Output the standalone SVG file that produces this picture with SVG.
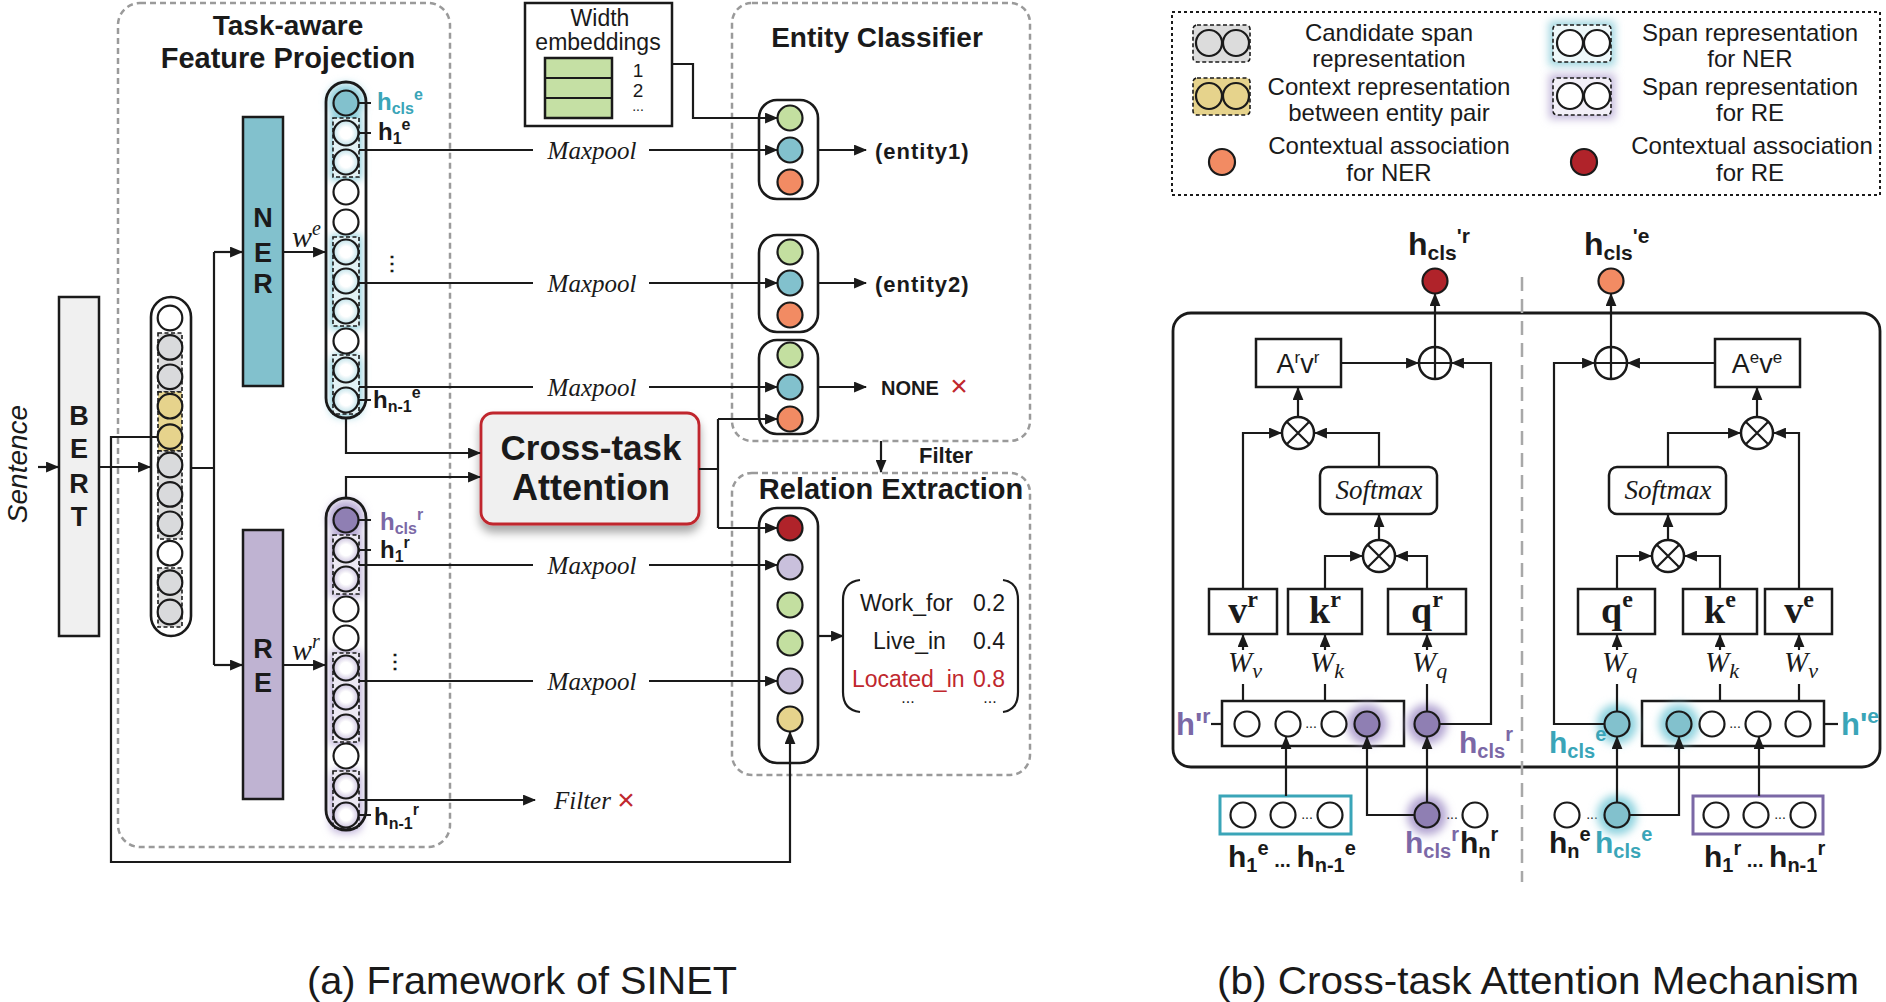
<svg xmlns="http://www.w3.org/2000/svg" width="1886" height="1002" viewBox="0 0 1886 1002">
<defs>
<marker id="ah" viewBox="0 0 12 10" refX="11" refY="5" markerWidth="13" markerHeight="11" orient="auto" markerUnits="userSpaceOnUse"><path d="M0,0 L12,5 L0,10 z" fill="#1a1a1a"/></marker>
<filter id="blur" x="-60%" y="-60%" width="220%" height="220%"><feGaussianBlur stdDeviation="4"/></filter>
<filter id="shadow" x="-20%" y="-20%" width="140%" height="170%"><feDropShadow dx="0" dy="7" stdDeviation="5" flood-color="#000" flood-opacity="0.35"/></filter>
<radialGradient id="gP" cx="50%" cy="50%" r="50%"><stop offset="45%" stop-color="#ffffff"/><stop offset="100%" stop-color="#cdc4df"/></radialGradient>
<radialGradient id="gT" cx="50%" cy="50%" r="50%"><stop offset="45%" stop-color="#ffffff"/><stop offset="100%" stop-color="#c2e3ea"/></radialGradient>
</defs>
<style>
.ln{fill:none;stroke:#1a1a1a;stroke-width:2.2}
.ar{marker-end:url(#ah)}
.dbox{fill:none;stroke:#9a9a9a;stroke-width:2.5;stroke-dasharray:6 4}
.cap{fill:#fff;stroke:#1a1a1a;stroke-width:2.6}
.capo{fill:none;stroke:#1a1a1a;stroke-width:2.8}
.c{stroke:#1a1a1a;stroke-width:2.2}
.dash{stroke:#1a1a1a;stroke-width:1.6;stroke-dasharray:4 2.5}
.box{fill:#fff;stroke:#1a1a1a;stroke-width:2.5}
.t{font-family:"Liberation Sans",Arial,sans-serif;fill:#1a1a1a}
.b{font-weight:bold}
.s{font-family:"Liberation Serif","Times New Roman",serif;fill:#1a1a1a}
.i{font-style:italic}
.w{fill:#fff}
.gr{fill:#d9dadc}
.ye{fill:#e6d38c}
.tl{fill:#82c1cd}
.pu{fill:#8f7fb3}
.gn{fill:#c3dfa0}
.or{fill:#f28b63}
.rd{fill:#b0232a}
.lv{fill:#c9c0dc}
.pt{fill:#7b68a6}
.tt{fill:#3aa5b8}
.red{fill:#c0272d}
</style>

<!-- ===== Panel (a) ===== -->
<g id="task-aware-box">
<rect class="dbox" x="118" y="3" width="332" height="844" rx="22"/>
<text class="t b" x="288" y="35" font-size="28" text-anchor="middle">Task-aware</text>
<text class="t b" x="288" y="68" font-size="29" text-anchor="middle">Feature Projection</text>
</g>

<g id="sentence">
<text class="t i" transform="translate(27,464) rotate(-90)" font-size="28" text-anchor="middle">Sentence</text>
</g>

<g id="bert">
<rect x="59" y="297" width="40" height="339" fill="#f0f0f0" stroke="#1a1a1a" stroke-width="2.5"/>
<text class="t b" x="79" y="425" font-size="27" text-anchor="middle">B</text>
<text class="t b" x="79" y="458" font-size="27" text-anchor="middle">E</text>
<text class="t b" x="79" y="493" font-size="27" text-anchor="middle">R</text>
<text class="t b" x="79" y="526" font-size="27" text-anchor="middle">T</text>
</g>

<g id="bert-output">
<rect class="cap" x="151" y="297" width="40" height="339" rx="20"/>
<rect class="dash" x="158" y="333" width="24" height="59" fill="#dcdcdc"/>
<rect class="dash" x="158" y="392" width="24" height="59" fill="#e8d690"/>
<rect class="dash" x="158" y="451" width="24" height="88" fill="#dcdcdc"/>
<rect class="dash" x="158" y="568" width="24" height="59" fill="#dcdcdc"/>
<circle class="c w" cx="170" cy="318" r="12.3"/>
<circle class="c gr" cx="170" cy="347.4" r="12.3"/>
<circle class="c gr" cx="170" cy="376.8" r="12.3"/>
<circle class="c ye" cx="170" cy="406.2" r="12.3"/>
<circle class="c ye" cx="170" cy="436.6" r="12.3"/>
<circle class="c gr" cx="170" cy="465" r="12.3"/>
<circle class="c gr" cx="170" cy="494.4" r="12.3"/>
<circle class="c gr" cx="170" cy="523.8" r="12.3"/>
<circle class="c w" cx="170" cy="553.2" r="12.3"/>
<circle class="c gr" cx="170" cy="582.6" r="12.3"/>
<circle class="c gr" cx="170" cy="612" r="12.3"/>
</g>

<g id="ner">
<rect x="243" y="117" width="40" height="269" fill="#82c1cd" stroke="#1a1a1a" stroke-width="2.5"/>
<text class="t b" x="263" y="227" font-size="27" text-anchor="middle">N</text>
<text class="t b" x="263" y="262" font-size="27" text-anchor="middle">E</text>
<text class="t b" x="263" y="293" font-size="27" text-anchor="middle">R</text>
</g>

<g id="re">
<rect x="243" y="530" width="40" height="269" fill="#bfb3d2" stroke="#1a1a1a" stroke-width="2.5"/>
<text class="t b" x="263" y="658" font-size="27" text-anchor="middle">R</text>
<text class="t b" x="263" y="692" font-size="27" text-anchor="middle">E</text>
</g>

<g id="ner-column">
<rect x="326" y="82" width="40" height="336" rx="20" fill="#fff"/>
<g fill="#8fcfdb" filter="url(#blur)">
<rect x="328" y="84" width="36" height="36" rx="16"/>
<rect x="330" y="116" width="32" height="64"/>
<rect x="330" y="235" width="32" height="94"/>
<rect x="330" y="353" width="32" height="64" rx="10"/>
</g>
<rect class="dash" x="333" y="118" width="26" height="59" fill="#e2f2f5"/>
<rect class="dash" x="333" y="237" width="26" height="89" fill="#e2f2f5"/>
<rect class="dash" x="333" y="355" width="26" height="59" fill="#e2f2f5"/>
<circle class="c tl" cx="346" cy="103" r="12.5"/>
<circle class="c" fill="url(#gT)" cx="346" cy="133" r="12.5"/>
<circle class="c" fill="url(#gT)" cx="346" cy="162" r="12.5"/>
<circle class="c w" cx="346" cy="192" r="12.5"/>
<circle class="c w" cx="346" cy="222" r="12.5"/>
<circle class="c" fill="url(#gT)" cx="346" cy="252" r="12.5"/>
<circle class="c" fill="url(#gT)" cx="346" cy="281" r="12.5"/>
<circle class="c" fill="url(#gT)" cx="346" cy="311" r="12.5"/>
<circle class="c w" cx="346" cy="341" r="12.5"/>
<circle class="c" fill="url(#gT)" cx="346" cy="370" r="12.5"/>
<circle class="c" fill="url(#gT)" cx="346" cy="400" r="12.5"/>
<rect class="capo" x="326" y="82" width="40" height="336" rx="20"/>
<path class="ln" d="M358,103 H371 M358,133 H371 M358,400 H371"/>
<text class="t b tt" x="377" y="110" font-size="24">h<tspan font-size="16" dy="4">cls</tspan><tspan font-size="16" dy="-14">e</tspan></text>
<text class="t b" x="378" y="140" font-size="24">h<tspan font-size="16" dy="4">1</tspan><tspan font-size="16" dy="-14">e</tspan></text>
<text class="t b" x="373" y="408" font-size="24">h<tspan font-size="16" dy="4">n-1</tspan><tspan font-size="16" dy="-14">e</tspan></text>
<text class="t b" x="392" y="270" font-size="20" text-anchor="middle">⋮</text>
</g>

<g id="re-column">
<rect x="326" y="498" width="40" height="332" rx="20" fill="#fff"/>
<g fill="#b9acd6" filter="url(#blur)">
<rect x="328" y="500" width="36" height="36" rx="16"/>
<rect x="330" y="533" width="32" height="64"/>
<rect x="330" y="651" width="32" height="94"/>
<rect x="330" y="769" width="32" height="64" rx="10"/>
</g>
<rect class="dash" x="333" y="535" width="26" height="59" fill="#ece8f3"/>
<rect class="dash" x="333" y="653" width="26" height="89" fill="#ece8f3"/>
<rect class="dash" x="333" y="771" width="26" height="57" fill="#ece8f3"/>
<circle class="c pu" cx="346" cy="520" r="12.5"/>
<circle class="c" fill="url(#gP)" cx="346" cy="550" r="12.5"/>
<circle class="c" fill="url(#gP)" cx="346" cy="579" r="12.5"/>
<circle class="c w" cx="346" cy="609" r="12.5"/>
<circle class="c w" cx="346" cy="638" r="12.5"/>
<circle class="c" fill="url(#gP)" cx="346" cy="668" r="12.5"/>
<circle class="c" fill="url(#gP)" cx="346" cy="697" r="12.5"/>
<circle class="c" fill="url(#gP)" cx="346" cy="727" r="12.5"/>
<circle class="c w" cx="346" cy="756" r="12.5"/>
<circle class="c" fill="url(#gP)" cx="346" cy="786" r="12.5"/>
<circle class="c" fill="url(#gP)" cx="346" cy="815" r="12.5"/>
<rect class="capo" x="326" y="498" width="40" height="332" rx="20"/>
<path class="ln" d="M358,520 H371 M358,550 H371 M358,815 H371"/>
<text class="t b pt" x="380" y="530" font-size="24">h<tspan font-size="16" dy="4">cls</tspan><tspan font-size="16" dy="-14">r</tspan></text>
<text class="t b" x="380" y="558" font-size="24">h<tspan font-size="16" dy="4">1</tspan><tspan font-size="16" dy="-14">r</tspan></text>
<text class="t b" x="374" y="825" font-size="24">h<tspan font-size="16" dy="4">n-1</tspan><tspan font-size="16" dy="-14">r</tspan></text>
<text class="t b" x="395" y="668" font-size="20" text-anchor="middle">⋮</text>
</g>

<g id="width-embeddings">
<rect class="box" x="525" y="3" width="147" height="123"/>
<text class="t" x="600" y="26" font-size="23" text-anchor="middle">Width</text>
<text class="t" x="598" y="50" font-size="23" text-anchor="middle">embeddings</text>
<rect x="545" y="58" width="67" height="60" fill="#c5e0a4" stroke="#1a1a1a" stroke-width="2.5"/>
<path class="ln" d="M545,78 H612 M545,98 H612" stroke-width="2.5"/>
<text class="t" x="638" y="77" font-size="19" text-anchor="middle">1</text>
<text class="t" x="638" y="97" font-size="19" text-anchor="middle">2</text>
<text class="t" x="638" y="111" font-size="14" text-anchor="middle">...</text>
</g>

<g id="cross-task-attention">
<rect x="481" y="413" width="218" height="111" rx="12" fill="#f0f0f0" stroke="#c0272d" stroke-width="2.8" filter="url(#shadow)"/>
<text class="t b" x="591" y="460" font-size="35" text-anchor="middle">Cross-task</text>
<text class="t b" x="591" y="500" font-size="36" text-anchor="middle">Attention</text>
</g>

<g id="entity-classifier">
<rect class="dbox" x="732" y="3" width="298" height="438" rx="20"/>
<text class="t b" x="877" y="47" font-size="28" text-anchor="middle">Entity Classifier</text>
<rect class="cap" x="759" y="100" width="59" height="99" rx="18"/>
<circle class="c gn" cx="790" cy="118" r="12.5"/>
<circle class="c tl" cx="790" cy="150" r="12.5"/>
<circle class="c or" cx="790" cy="182" r="12.5"/>
<rect class="cap" x="759" y="235" width="59" height="97" rx="18"/>
<circle class="c gn" cx="790" cy="252" r="12.5"/>
<circle class="c tl" cx="790" cy="283" r="12.5"/>
<circle class="c or" cx="790" cy="315" r="12.5"/>
<rect class="cap" x="759" y="340" width="59" height="94" rx="18"/>
<circle class="c gn" cx="790" cy="355" r="12.5"/>
<circle class="c tl" cx="790" cy="387" r="12.5"/>
<circle class="c or" cx="790" cy="419" r="12.5"/>
<text class="t b" x="875" y="159" font-size="22" letter-spacing="1">(entity1)</text>
<text class="t b" x="875" y="292" font-size="22" letter-spacing="1">(entity2)</text>
<text class="t b" x="881" y="395" font-size="20">NONE</text>
<text class="t red" x="959" y="396" font-size="30" text-anchor="middle">×</text>
</g>

<g id="filter-label">
<text class="t b" x="919" y="463" font-size="22">Filter</text>
</g>

<g id="relation-extraction">
<rect class="dbox" x="732" y="473" width="298" height="302" rx="20"/>
<text class="t b" x="891" y="499" font-size="29" text-anchor="middle">Relation Extraction</text>
<rect class="cap" x="759" y="508" width="59" height="255" rx="18"/>
<circle class="c rd" cx="790" cy="528" r="12.5"/>
<circle class="c lv" cx="790" cy="567" r="12.5"/>
<circle class="c gn" cx="790" cy="605" r="12.5"/>
<circle class="c gn" cx="790" cy="643" r="12.5"/>
<circle class="c lv" cx="790" cy="681" r="12.5"/>
<circle class="c ye" cx="790" cy="719" r="12.5"/>
<path class="ln" d="M860,580 Q843,582 843,600 V692 Q843,710 860,712 M1003,580 Q1018,582 1018,600 V692 Q1018,710 1003,712" stroke-width="2.5"/>
<text class="t" x="860" y="611" font-size="23">Work_for</text>
<text class="t" x="973" y="611" font-size="23">0.2</text>
<text class="t" x="873" y="649" font-size="23">Live_in</text>
<text class="t" x="973" y="649" font-size="23">0.4</text>
<text class="t red" x="852" y="687" font-size="23">Located_in</text>
<text class="t red" x="973" y="687" font-size="23">0.8</text>
<text class="t" x="908" y="703" font-size="16" text-anchor="middle">...</text>
<text class="t" x="990" y="703" font-size="16" text-anchor="middle">...</text>
</g>

<g id="maxpool-labels">
<text class="s i" x="592" y="159" font-size="25" text-anchor="middle">Maxpool</text>
<text class="s i" x="592" y="292" font-size="25" text-anchor="middle">Maxpool</text>
<text class="s i" x="592" y="396" font-size="25" text-anchor="middle">Maxpool</text>
<text class="s i" x="592" y="574" font-size="25" text-anchor="middle">Maxpool</text>
<text class="s i" x="592" y="690" font-size="25" text-anchor="middle">Maxpool</text>
<text class="s i" x="554" y="809" font-size="25">Filter</text>
<text class="t red" x="626" y="810" font-size="30" text-anchor="middle">×</text>
<text class="s i" x="292" y="247" font-size="30">w<tspan font-size="20" dy="-12">e</tspan></text>
<text class="s i" x="292" y="660" font-size="30">w<tspan font-size="20" dy="-12">r</tspan></text>
</g>

<g id="connectors-a">
<path class="ln ar" d="M38,467 H58"/>
<path class="ln ar" d="M99,467 H150"/>
<path class="ln" d="M191,468 H214 M214,252 V665"/>
<path class="ln ar" d="M214,252 H242"/>
<path class="ln ar" d="M214,665 H242"/>
<path class="ln ar" d="M283,252 H325"/>
<path class="ln ar" d="M283,665 H325"/>
<path class="ln" d="M359,150 H533 M359,283 H533 M359,387 H533 M359,565 H533 M359,681 H533"/>
<path class="ln ar" d="M649,150 H777"/>
<path class="ln ar" d="M649,283 H777"/>
<path class="ln ar" d="M649,387 H777"/>
<path class="ln ar" d="M649,565 H777"/>
<path class="ln ar" d="M649,681 H777"/>
<path class="ln ar" d="M359,800 H535"/>
<path class="ln ar" d="M346,418 V453 H480"/>
<path class="ln ar" d="M346,498 V477 H480"/>
<path class="ln" d="M699,469 H718 M718,419 V528"/>
<path class="ln ar" d="M718,419 H777"/>
<path class="ln ar" d="M718,528 H777"/>
<path class="ln ar" d="M672,64 H693 V118 H777"/>
<path class="ln ar" d="M818,150 H866"/>
<path class="ln ar" d="M818,283 H866"/>
<path class="ln ar" d="M818,387 H866"/>
<path class="ln ar" d="M881,441 V472"/>
<path class="ln ar" d="M818,636 H843"/>
<path class="ln ar" d="M157,437 H111 V862 H790 V732"/>
</g>

<!-- ===== Panel (b) ===== -->
<g id="legend">
<rect x="1172" y="12" width="708" height="183" fill="none" stroke="#1a1a1a" stroke-width="2" stroke-dasharray="3 3"/>
<rect class="dash" x="1193" y="25" width="57" height="37" rx="4" fill="#dcdcdc" stroke-width="2"/>
<circle class="c" cx="1209" cy="43" r="13" style="fill:none"/>
<circle class="c" cx="1236" cy="43" r="13" style="fill:none"/>
<rect class="dash" x="1193" y="78" width="57" height="37" rx="4" fill="#e6d38c" stroke-width="2"/>
<circle class="c" cx="1209" cy="96" r="13" style="fill:none"/>
<circle class="c" cx="1236" cy="96" r="13" style="fill:none"/>
<circle class="c or" cx="1222" cy="162" r="13"/>
<rect x="1549" y="21" width="66" height="45" fill="#9fd6e0" filter="url(#blur)"/>
<rect class="dash" x="1553" y="25" width="58" height="37" rx="4" fill="#eef8fa" stroke-width="2"/>
<circle class="c" cx="1570" cy="43" r="13" fill="#fff"/>
<circle class="c" cx="1597" cy="43" r="13" fill="#fff"/>
<rect x="1549" y="74" width="66" height="45" fill="#c4b9dc" filter="url(#blur)"/>
<rect class="dash" x="1553" y="78" width="58" height="37" rx="4" fill="#f3f0f8" stroke-width="2"/>
<circle class="c" cx="1570" cy="96" r="13" fill="#fff"/>
<circle class="c" cx="1597" cy="96" r="13" fill="#fff"/>
<circle class="c rd" cx="1584" cy="162" r="13"/>
<g class="t" font-size="24" text-anchor="middle">
<text x="1389" y="41">Candidate span</text>
<text x="1389" y="67">representation</text>
<text x="1389" y="95">Context representation</text>
<text x="1389" y="121">between entity pair</text>
<text x="1389" y="154">Contextual association</text>
<text x="1389" y="181">for NER</text>
<text x="1750" y="41">Span representation</text>
<text x="1750" y="67">for NER</text>
<text x="1750" y="95">Span representation</text>
<text x="1750" y="121">for RE</text>
<text x="1752" y="154">Contextual association</text>
<text x="1750" y="181">for RE</text>
</g>
</g>

<g id="attention-frame">
<rect x="1173" y="313" width="707" height="454" rx="18" fill="none" stroke="#1a1a1a" stroke-width="2.8"/>
<line x1="1522" y1="277" x2="1522" y2="882" stroke="#a8a8a8" stroke-width="2.5" stroke-dasharray="14 8"/>
</g>

<g id="outputs">
<text class="t b" x="1408" y="255" font-size="32">h<tspan font-size="21" dy="5">cls</tspan><tspan font-size="21" dy="-17">'r</tspan></text>
<circle class="c rd" cx="1435" cy="281" r="12.5"/>
<text class="t b" x="1584" y="255" font-size="32">h<tspan font-size="21" dy="5">cls</tspan><tspan font-size="21" dy="-17">'e</tspan></text>
<circle class="c or" cx="1611" cy="281" r="12.5"/>
</g>

<g id="sum-ops">
<circle cx="1435" cy="363" r="16" fill="#fff" stroke="#1a1a1a" stroke-width="2.5"/>
<path class="ln" d="M1419,363 H1451 M1435,347 V379" stroke-width="2.5"/>
<circle cx="1611" cy="363" r="16" fill="#fff" stroke="#1a1a1a" stroke-width="2.5"/>
<path class="ln" d="M1595,363 H1627 M1611,347 V379" stroke-width="2.5"/>
</g>

<g id="av-boxes">
<rect class="box" x="1256" y="339" width="85" height="48"/>
<text class="t" x="1298" y="373" font-size="27" text-anchor="middle">A<tspan font-size="17" dy="-10">r</tspan><tspan dy="10">v</tspan><tspan font-size="17" dy="-10">r</tspan></text>
<rect class="box" x="1715" y="339" width="85" height="48"/>
<text class="t" x="1757" y="373" font-size="27" text-anchor="middle">A<tspan font-size="17" dy="-10">e</tspan><tspan dy="10">v</tspan><tspan font-size="17" dy="-10">e</tspan></text>
</g>

<g id="mul-ops">
<g fill="#fff" stroke="#1a1a1a" stroke-width="2.5">
<circle cx="1298" cy="433" r="16"/>
<circle cx="1379" cy="556" r="16"/>
<circle cx="1757" cy="433" r="16"/>
<circle cx="1668" cy="556" r="16"/>
</g>
<path class="ln" stroke-width="2.5" d="M1287,422 L1309,444 M1309,422 L1287,444 M1368,545 L1390,567 M1390,545 L1368,567 M1746,422 L1768,444 M1768,422 L1746,444 M1657,545 L1679,567 M1679,545 L1657,567"/>
</g>

<g id="softmax">
<rect class="box" x="1320" y="467" width="117" height="47" rx="8"/>
<text class="s i" x="1379" y="499" font-size="27" text-anchor="middle">Softmax</text>
<rect class="box" x="1609" y="467" width="117" height="47" rx="8"/>
<text class="s i" x="1668" y="499" font-size="27" text-anchor="middle">Softmax</text>
</g>

<g id="qkv-boxes">
<rect class="box" x="1209" y="589" width="68" height="45"/>
<rect class="box" x="1288" y="589" width="74" height="45"/>
<rect class="box" x="1388" y="589" width="78" height="45"/>
<rect class="box" x="1578" y="589" width="77" height="45"/>
<rect class="box" x="1683" y="589" width="74" height="45"/>
<rect class="box" x="1765" y="589" width="67" height="45"/>
<g class="s b" font-size="38" text-anchor="middle">
<text x="1243" y="623">v<tspan font-size="24" dy="-16">r</tspan></text>
<text x="1325" y="623">k<tspan font-size="24" dy="-16">r</tspan></text>
<text x="1427" y="623">q<tspan font-size="24" dy="-16">r</tspan></text>
<text x="1617" y="623">q<tspan font-size="24" dy="-16">e</tspan></text>
<text x="1720" y="623">k<tspan font-size="24" dy="-16">e</tspan></text>
<text x="1799" y="623">v<tspan font-size="24" dy="-16">e</tspan></text>
</g>
<g class="s i" font-size="29">
<text x="1228" y="672">W<tspan font-size="22" dy="6">v</tspan></text>
<text x="1310" y="672">W<tspan font-size="22" dy="6">k</tspan></text>
<text x="1412" y="672">W<tspan font-size="22" dy="6">q</tspan></text>
<text x="1602" y="672">W<tspan font-size="22" dy="6">q</tspan></text>
<text x="1705" y="672">W<tspan font-size="22" dy="6">k</tspan></text>
<text x="1784" y="672">W<tspan font-size="22" dy="6">v</tspan></text>
</g>
</g>

<g id="h-prime-r">
<rect class="box" x="1222" y="701" width="182" height="45"/>
<circle cx="1367" cy="724" r="20" fill="#b3a5d2" filter="url(#blur)"/>
<circle class="c w" cx="1247" cy="724" r="12.5"/>
<circle class="c w" cx="1288" cy="724" r="12.5"/>
<circle class="c w" cx="1334" cy="724" r="12.5"/>
<circle class="c pu" cx="1367" cy="724" r="12.5"/>
<text class="t" x="1311" y="728" font-size="14" text-anchor="middle">...</text>
<path class="ln" d="M1211,724 H1222"/>
<text class="t b pt" x="1176" y="735" font-size="31">h'<tspan font-size="21" dy="-12">r</tspan></text>
<circle cx="1427" cy="724" r="20" fill="#b3a5d2" filter="url(#blur)"/>
<circle class="c pu" cx="1427" cy="724" r="12.5"/>
<text class="t b pt" x="1459" y="753" font-size="30">h<tspan font-size="20" dy="5">cls</tspan><tspan font-size="20" dy="-17">r</tspan></text>
</g>

<g id="h-prime-e">
<rect class="box" x="1642" y="701" width="182" height="45"/>
<circle cx="1679" cy="724" r="20" fill="#8fd3df" filter="url(#blur)"/>
<circle class="c tl" cx="1679" cy="724" r="12.5"/>
<circle class="c w" cx="1712" cy="724" r="12.5"/>
<circle class="c w" cx="1758" cy="724" r="12.5"/>
<circle class="c w" cx="1798" cy="724" r="12.5"/>
<text class="t" x="1735" y="728" font-size="14" text-anchor="middle">...</text>
<path class="ln" d="M1824,724 H1838"/>
<text class="t b tt" x="1841" y="735" font-size="31">h'<tspan font-size="21" dy="-12">e</tspan></text>
<circle cx="1617" cy="724" r="20" fill="#8fd3df" filter="url(#blur)"/>
<circle class="c tl" cx="1617" cy="724" r="12.5"/>
<text class="t b tt" x="1549" y="753" font-size="30">h<tspan font-size="20" dy="5">cls</tspan><tspan font-size="20" dy="-17">e</tspan></text>
</g>

<g id="inputs-left">
<rect x="1220" y="796" width="131" height="38" fill="#fff" stroke="#3aa5b8" stroke-width="3"/>
<circle class="c w" cx="1243" cy="815" r="12.5"/>
<circle class="c w" cx="1283" cy="815" r="12.5"/>
<circle class="c w" cx="1330" cy="815" r="12.5"/>
<text class="t" x="1307" y="819" font-size="14" text-anchor="middle">...</text>
<text class="t b" x="1228" y="867" font-size="30">h<tspan font-size="20" dy="5">1</tspan><tspan font-size="20" dy="-17">e</tspan><tspan font-size="20" dy="12"> ... </tspan><tspan font-size="30">h</tspan><tspan font-size="20" dy="5">n-1</tspan><tspan font-size="20" dy="-17">e</tspan></text>
<circle cx="1427" cy="815" r="20" fill="#b3a5d2" filter="url(#blur)"/>
<circle class="c pu" cx="1427" cy="815" r="12.5"/>
<text class="t" x="1452" y="819" font-size="14" text-anchor="middle">...</text>
<circle class="c w" cx="1475" cy="815" r="12.5"/>
<text class="t b pt" x="1405" y="853" font-size="30">h<tspan font-size="20" dy="5">cls</tspan><tspan font-size="20" dy="-17">r</tspan></text>
<text class="t b" x="1460" y="853" font-size="30">h<tspan font-size="20" dy="5">n</tspan><tspan font-size="20" dy="-17">r</tspan></text>
</g>

<g id="inputs-right">
<circle class="c w" cx="1567" cy="815" r="12.5"/>
<text class="t" x="1592" y="819" font-size="14" text-anchor="middle">...</text>
<circle cx="1617" cy="815" r="20" fill="#8fd3df" filter="url(#blur)"/>
<circle class="c tl" cx="1617" cy="815" r="12.5"/>
<rect x="1693" y="796" width="130" height="38" fill="#fff" stroke="#7b68a6" stroke-width="3"/>
<circle class="c w" cx="1716" cy="815" r="12.5"/>
<circle class="c w" cx="1756" cy="815" r="12.5"/>
<circle class="c w" cx="1803" cy="815" r="12.5"/>
<text class="t" x="1780" y="819" font-size="14" text-anchor="middle">...</text>
<text class="t b" x="1549" y="853" font-size="30">h<tspan font-size="20" dy="5">n</tspan><tspan font-size="20" dy="-17">e</tspan></text>
<text class="t b tt" x="1595" y="853" font-size="30">h<tspan font-size="20" dy="5">cls</tspan><tspan font-size="20" dy="-17">e</tspan></text>
<text class="t b" x="1704" y="867" font-size="30">h<tspan font-size="20" dy="5">1</tspan><tspan font-size="20" dy="-17">r</tspan><tspan font-size="20" dy="12"> ... </tspan><tspan font-size="30">h</tspan><tspan font-size="20" dy="5">n-1</tspan><tspan font-size="20" dy="-17">r</tspan></text>
</g>

<g id="connectors-b">
<path class="ln ar" d="M1435,347 V294"/>
<path class="ln ar" d="M1611,347 V294"/>
<path class="ln ar" d="M1341,363 H1418"/>
<path class="ln ar" d="M1439,724 H1491 V363 H1452"/>
<path class="ln ar" d="M1298,417 V388"/>
<path class="ln ar" d="M1243,589 V433 H1281"/>
<path class="ln ar" d="M1379,467 V433 H1315"/>
<path class="ln ar" d="M1379,540 V515"/>
<path class="ln ar" d="M1325,589 V556 H1362"/>
<path class="ln ar" d="M1427,589 V556 H1396"/>
<path class="ln ar" d="M1715,363 H1628"/>
<path class="ln ar" d="M1605,724 H1554 V363 H1594"/>
<path class="ln ar" d="M1757,417 V388"/>
<path class="ln ar" d="M1668,467 V433 H1740"/>
<path class="ln ar" d="M1799,589 V433 H1774"/>
<path class="ln ar" d="M1668,540 V515"/>
<path class="ln ar" d="M1617,589 V556 H1651"/>
<path class="ln ar" d="M1720,589 V556 H1685"/>
<path class="ln" d="M1243,701 V684 M1325,701 V684 M1427,711 V684 M1617,711 V684 M1720,701 V684 M1799,701 V684"/>
<path class="ln ar" d="M1243,650 V635"/>
<path class="ln ar" d="M1325,650 V635"/>
<path class="ln ar" d="M1427,650 V635"/>
<path class="ln ar" d="M1617,650 V635"/>
<path class="ln ar" d="M1720,650 V635"/>
<path class="ln ar" d="M1799,650 V635"/>
<path class="ln ar" d="M1286,796 V737"/>
<path class="ln ar" d="M1427,802 V737"/>
<path class="ln ar" d="M1414,815 H1367 V737"/>
<path class="ln ar" d="M1617,802 V737"/>
<path class="ln ar" d="M1630,815 H1679 V737"/>
<path class="ln ar" d="M1759,796 V737"/>
</g>

<g id="captions">
<text class="t" x="307" y="994" font-size="39" textLength="430" lengthAdjust="spacingAndGlyphs">(a)  Framework of SINET</text>
<text class="t" x="1217" y="994" font-size="39" textLength="642" lengthAdjust="spacingAndGlyphs">(b)  Cross-task Attention Mechanism</text>
</g>
</svg>
